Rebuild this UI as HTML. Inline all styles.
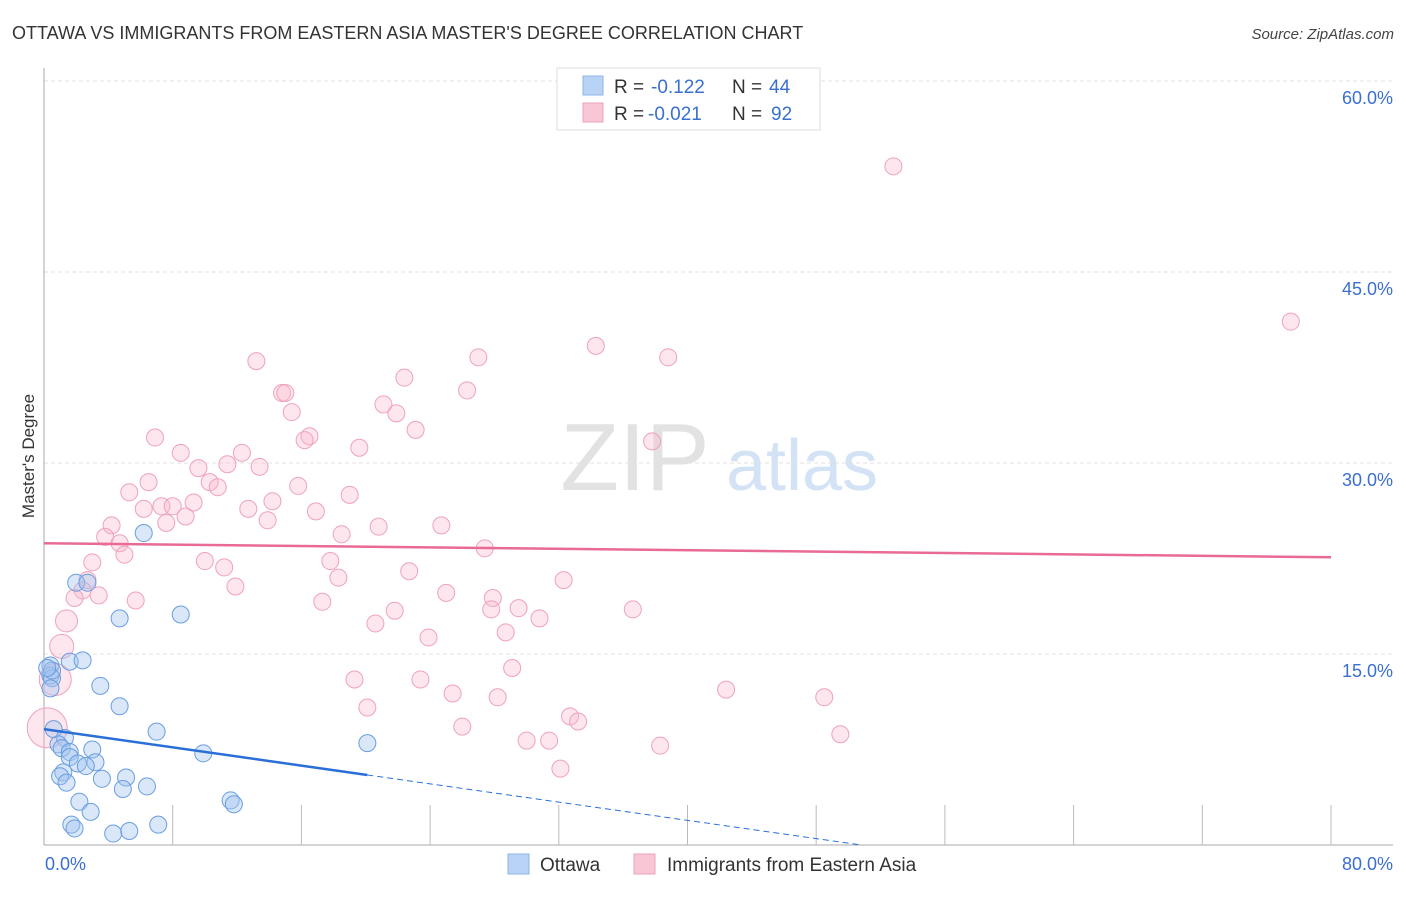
<!DOCTYPE html>
<html><head><meta charset="utf-8"><style>
body{margin:0;background:#fff;font-family:"Liberation Sans",sans-serif;}
svg text{font-family:"Liberation Sans",sans-serif;}
</style></head><body>
<svg id="chart" width="1406" height="892">
<text x="12" y="39" font-size="18" fill="#333">OTTAWA VS IMMIGRANTS FROM EASTERN ASIA MASTER'S DEGREE CORRELATION CHART</text>
<text x="1394" y="39" font-size="15" font-style="italic" fill="#444" text-anchor="end">Source: ZipAtlas.com</text>
<text transform="translate(34,456) rotate(-90)" font-size="17" fill="#333" text-anchor="middle">Master's Degree</text>
<g><text x="635" y="490" font-size="96" font-family="Liberation Serif" fill="#e2e2e2" text-anchor="middle">ZIP</text><text x="802" y="490" font-size="72" fill="#d3e2f5" text-anchor="middle">atlas</text></g>
<g id="grid"></g><g id="marks"></g>
<g>
<rect x="557" y="68" width="263" height="62" fill="#fff" stroke="#ddd"/>
<rect x="583" y="76" width="20" height="19" fill="#b8d3f5" stroke="#8fb6e8"/>
<rect x="583" y="103" width="20" height="19" fill="#f9c6d5" stroke="#eea3bb"/>
<g font-size="19" fill="#333">
<text x="614" y="93">R =</text><text x="651" y="93" fill="#3a6fd0">-0.122</text><text x="732" y="93">N =</text><text x="769" y="93" fill="#3a6fd0">44</text>
<text x="614" y="120">R =</text><text x="648" y="120" fill="#3a6fd0">-0.021</text><text x="732" y="120">N =</text><text x="771" y="120" fill="#3a6fd0">92</text>
</g>
</g>
<g>
<rect x="508" y="854" width="21" height="20" fill="#b8d3f5" stroke="#8fb6e8"/>
<text x="540" y="871" font-size="19" fill="#333">Ottawa</text>
<rect x="634" y="854" width="21" height="20" fill="#f9c6d5" stroke="#eea3bb"/>
<text x="667" y="871" font-size="19" fill="#333">Immigrants from Eastern Asia</text>
</g>
</svg>
<script>
const yTicks=[15,30,45,60];
const yTickLabels=["15.0%","30.0%","45.0%","60.0%"];
const xTickLabels=["0.0%","80.0%"];
const blueX=[6.2,2.0,2.7,4.7,8.5,0.4,1.6,2.4,0.4,0.5,0.4,3.5,4.7,7.0,0.6,1.3,0.9,1.1,1.6,3.0,1.6,2.1,3.2,2.6,9.9,20.1,1.2,1.0,5.1,3.6,1.4,4.9,6.4,2.2,2.9,11.6,11.8,1.7,1.9,7.1,4.3,5.3,0.5,0.2];
const blueY=[24.5,20.6,20.6,17.8,18.1,14.1,14.4,14.5,13.3,13.1,12.3,12.5,10.9,8.9,9.1,8.4,7.9,7.6,7.3,7.5,6.9,6.4,6.5,6.2,7.2,8.0,5.7,5.4,5.3,5.2,4.9,4.4,4.6,3.4,2.6,3.5,3.2,1.6,1.3,1.6,0.9,1.1,13.7,13.9];
const pinkX=[52.8,77.5,13.2,34.3,27.0,38.8,22.4,14.8,15.0,26.3,15.4,21.1,21.9,23.1,6.9,16.5,16.2,19.6,37.8,8.5,12.3,9.6,11.4,13.4,6.5,10.3,10.8,15.8,5.3,19.0,14.2,6.2,7.3,8.0,9.3,12.7,16.9,8.8,13.9,7.6,4.2,20.8,24.7,3.8,4.7,18.5,5.0,27.4,3.0,10.0,11.2,17.8,22.7,32.3,18.3,2.7,11.9,2.4,25.0,1.9,3.4,5.7,17.3,27.9,29.5,27.8,36.6,21.8,30.8,20.6,28.7,23.9,29.1,19.3,23.4,25.4,28.2,42.4,48.5,20.1,32.7,33.2,26.0,30.0,31.4,38.3,49.5,32.1,0.2,0.7,1.1,1.4];
const pinkY=[53.3,41.1,38.0,39.2,38.3,38.3,36.7,35.5,35.5,35.7,34.0,34.6,33.9,32.6,32.0,32.1,31.8,31.2,31.7,30.8,30.8,29.6,29.9,29.7,28.5,28.5,28.1,28.2,27.7,27.5,27.0,26.4,26.6,26.6,26.9,26.4,26.2,25.8,25.5,25.3,25.1,25.0,25.1,24.2,23.7,24.4,22.8,23.3,22.2,22.3,21.8,22.3,21.5,20.8,21.0,20.8,20.3,20.0,19.8,19.4,19.6,19.2,19.1,19.4,18.6,18.5,18.5,18.4,17.8,17.4,16.7,16.3,13.9,13.0,13.0,11.9,11.6,12.2,11.6,10.8,10.1,9.7,9.3,8.2,8.2,7.8,8.7,6.0,9.2,13.0,15.6,17.6];
const pinkBig=[20,16,12,11];
const blueTrend=[9.1,5.5];
const pinkTrend=[23.7,22.6];
const NS="http://www.w3.org/2000/svg";
const X=v=>44+v*(1287/80), Y=v=>845-v*(764/60);
function mk(t,a,p){const e=document.createElementNS(NS,t);for(const k in a)e.setAttribute(k,a[k]);p.appendChild(e);return e;}
const grid=document.getElementById('grid'),marks=document.getElementById('marks');
yTicks.forEach((t,i)=>{
 const l=mk('line',{x1:44,x2:1393,y1:Y(t),y2:Y(t),stroke:'#e2e2e2','stroke-dasharray':'4,3'},grid);
 
 
 const tx=mk('text',{x:1393,y:Y(t)+23,'font-size':18,fill:'#3a6fd0','text-anchor':'end'},grid);tx.textContent=yTickLabels[i];
 
 
});
mk('line',{x1:44,x2:44,y1:68,y2:845,stroke:'#aaa'},grid);
mk('line',{x1:44,x2:1393,y1:845,y2:845,stroke:'#aaa'},grid);
for(let i=1;i<=10;i++){mk('line',{x1:X(i*8),x2:X(i*8),y1:805,y2:845,stroke:'#bbb'},grid);}
const xl=mk('text',{x:45,y:870,'font-size':18,fill:'#3a6fd0'},grid);xl.textContent=xTickLabels[0];


const xr=mk('text',{x:1393,y:870,'font-size':18,fill:'#3a6fd0','text-anchor':'end'},grid);xr.textContent=xTickLabels[1];


pinkX.forEach((v,i)=>{const big=i>=pinkX.length-4;const c=mk('circle',{cx:X(v),cy:Y(pinkY[i]),r:big?pinkBig[i-(pinkX.length-4)]:8.5,fill:'rgba(248,182,204,0.35)',stroke:'#efa2bc','stroke-width':1},marks);
 
 });
blueX.forEach((v,i)=>{const c=mk('circle',{cx:X(v),cy:Y(blueY[i]),r:8.5,fill:'rgba(160,196,240,0.4)',stroke:'#6a9ee0','stroke-width':1},marks);
 
 });
const pt=mk('line',{x1:X(0),x2:X(80),y1:Y(pinkTrend[0]),y2:Y(pinkTrend[1]),stroke:'#e86a95','stroke-width':2.5},marks);


const slope=(blueTrend[1]-blueTrend[0])/20.1;
const bt=mk('line',{x1:X(0),x2:X(20.1),y1:Y(blueTrend[0]),y2:Y(blueTrend[1]),stroke:'#2a6fd8','stroke-width':2.5},marks);


const xe=-blueTrend[0]/slope;
const bd=mk('line',{x1:X(20.1),x2:X(xe),y1:Y(blueTrend[1]),y2:Y(0),stroke:'#2a6fd8','stroke-width':1,'stroke-dasharray':'6,4'},marks);


</script>
</body></html>
